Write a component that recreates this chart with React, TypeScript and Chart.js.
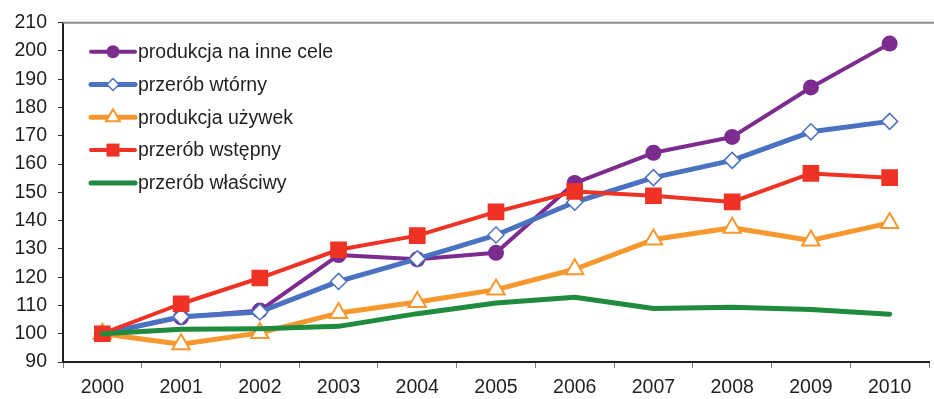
import React, { useEffect, useRef } from 'react';
import { Chart, registerables } from 'chart.js';

Chart.register(...registerables);

// Index values (2000 = 100) for the five branches
const years = ['2000', '2001', '2002', '2003', '2004', '2005', '2006', '2007', '2008', '2009', '2010'];
const inneCele = [100, 105.8, 108.2, 127.8, 126.3, 128.6, 153.3, 164.0, 169.6, 187.1, 202.6];
const wtorny = [100, 106.0, 107.7, 118.5, 126.5, 134.9, 146.5, 155.2, 161.3, 171.4, 175.1];
const uzywki = [100, 96.3, 100.3, 107.3, 111.2, 115.6, 122.8, 133.3, 137.5, 133.0, 139.2];
const wstepny = [100, 110.6, 119.7, 129.7, 134.7, 143.1, 150.3, 148.8, 146.6, 156.7, 155.2];
const wlasciwy = [100, 101.6, 101.8, 102.6, 107.1, 110.9, 112.9, 108.9, 109.4, 108.6, 106.9];

const yMin = 90;
const yMax = 210;
const yStep = 10;

const FONT = '"Liberation Sans", Arial, Helvetica, sans-serif';
const TEXT = '#231F20';

const PURPLE = '#7B2C8E';
const BLUE = '#4A72C0';
const ORANGE = '#F7982F';
const RED = '#EE3224';
const GREEN = '#1E8B3D';

type Marker = 'circle' | 'rectRot' | 'triangle' | 'rect' | 'none';

function drawMarker(ctx: CanvasRenderingContext2D, kind: Marker, x: number, y: number, color: string) {
  ctx.save();
  ctx.beginPath();
  if (kind === 'circle') {
    ctx.arc(x, y, 6.5, 0, Math.PI * 2);
    ctx.fillStyle = color;
    ctx.fill();
  } else if (kind === 'rect') {
    ctx.rect(x - 6.5, y - 6.5, 13, 13);
    ctx.fillStyle = color;
    ctx.fill();
  } else if (kind === 'rectRot') {
    const r = 6;
    ctx.moveTo(x - r, y);
    ctx.lineTo(x, y - r);
    ctx.lineTo(x + r, y);
    ctx.lineTo(x, y + r);
    ctx.closePath();
    ctx.fillStyle = '#fff';
    ctx.fill();
    ctx.lineWidth = 1.5;
    ctx.strokeStyle = color;
    ctx.stroke();
  } else if (kind === 'triangle') {
    const r = 8;
    const h = r * Math.sin((2 * Math.PI) / 3);
    ctx.moveTo(x, y - r);
    ctx.lineTo(x + h, y + r / 2);
    ctx.lineTo(x - h, y + r / 2);
    ctx.closePath();
    ctx.fillStyle = '#fff';
    ctx.fill();
    ctx.lineWidth = 2;
    ctx.strokeStyle = color;
    ctx.stroke();
  }
  ctx.restore();
}

// Excel-style legend (line + marker) placed inside the plot area
const insideLegend = {
  id: 'insideLegend',
  afterDatasetsDraw(chart: any) {
    const { ctx, chartArea } = chart;
    const x0 = chartArea.left + 28;
    const y0 = chartArea.top + 29;
    const rowH = 32.8;
    chart.data.datasets.forEach((ds: any, i: number) => {
      const y = y0 + i * rowH;
      ctx.save();
      ctx.beginPath();
      ctx.moveTo(x0, y);
      ctx.lineTo(x0 + 44, y);
      ctx.strokeStyle = ds.borderColor;
      ctx.lineWidth = ds.borderWidth;
      ctx.lineCap = 'round';
      ctx.stroke();
      ctx.restore();
      drawMarker(ctx, ds.legendMarker as Marker, x0 + 22, y, ds.borderColor);
      ctx.save();
      ctx.font = `19.5px ${FONT}`;
      ctx.fillStyle = TEXT;
      ctx.textBaseline = 'middle';
      ctx.textAlign = 'left';
      ctx.fillText(ds.label, x0 + 47, y + 1);
      ctx.restore();
    });
  },
};

// Grey frame line along the top of the plot area
const topFrame = {
  id: 'topFrame',
  beforeDatasetsDraw(chart: any) {
    const { ctx, chartArea } = chart;
    ctx.save();
    ctx.beginPath();
    ctx.moveTo(chartArea.left, chartArea.top);
    ctx.lineTo(chart.width, chartArea.top);
    ctx.strokeStyle = '#8C8C8C';
    ctx.lineWidth = 2;
    ctx.stroke();
    ctx.restore();
  },
};

export default function App() {
  const canvasRef = useRef<HTMLCanvasElement | null>(null);

  useEffect(() => {
    if (!canvasRef.current) return;
    const chart = new Chart(canvasRef.current, {
      type: 'line',
      data: {
        labels: years,
        datasets: [
          {
            label: 'produkcja na inne cele',
            data: inneCele,
            borderColor: PURPLE,
            backgroundColor: PURPLE,
            borderWidth: 4,
            pointStyle: 'circle',
            pointRadius: 8,
            pointBackgroundColor: PURPLE,
            pointBorderColor: PURPLE,
            pointBorderWidth: 0,
            order: 4,
            legendMarker: 'circle',
          } as any,
          {
            label: 'przerób wtórny',
            data: wtorny,
            borderColor: BLUE,
            backgroundColor: BLUE,
            borderWidth: 5,
            pointStyle: 'rectRot',
            pointRadius: 8,
            pointBackgroundColor: '#fff',
            pointBorderColor: BLUE,
            pointBorderWidth: 1.5,
            order: 3,
            legendMarker: 'rectRot',
          } as any,
          {
            label: 'produkcja używek',
            data: uzywki,
            borderColor: ORANGE,
            backgroundColor: ORANGE,
            borderWidth: 5,
            pointStyle: 'triangle',
            pointRadius: 10,
            pointBackgroundColor: '#fff',
            pointBorderColor: ORANGE,
            pointBorderWidth: 2,
            order: 2,
            legendMarker: 'triangle',
          } as any,
          {
            label: 'przerób wstępny',
            data: wstepny,
            borderColor: RED,
            backgroundColor: RED,
            borderWidth: 4,
            pointStyle: 'rect',
            pointRadius: 11.8,
            pointBackgroundColor: RED,
            pointBorderColor: RED,
            pointBorderWidth: 0,
            order: 1,
            legendMarker: 'rect',
          } as any,
          {
            label: 'przerób właściwy',
            data: wlasciwy,
            borderColor: GREEN,
            backgroundColor: GREEN,
            borderWidth: 5,
            pointRadius: 0,
            order: 0,
            legendMarker: 'none',
          } as any,
        ],
      },
      options: {
        responsive: false,
        animation: false,
        events: [],
        layout: { padding: { top: 21, left: 0, right: 0, bottom: 0 } },
        elements: {
          line: { tension: 0, borderCapStyle: 'round', borderJoinStyle: 'round' },
        },
        plugins: {
          legend: { display: false },
          title: { display: false },
          tooltip: { enabled: false },
        },
        scales: {
          x: {
            type: 'category',
            offset: true,
            afterFit: (s: any) => {
              s.height = 37;
            },
            grid: {
              offset: true,
              drawOnChartArea: false,
              drawTicks: true,
              tickLength: 6,
              tickColor: '#7A7A7A',
              tickWidth: 1,
            },
            border: { display: true, color: TEXT, width: 2 },
            ticks: {
              color: TEXT,
              font: { family: FONT, size: 19.5 },
              padding: 8,
              maxRotation: 0,
              autoSkip: false,
            },
          },
          y: {
            min: yMin,
            max: yMax,
            afterFit: (s: any) => {
              s.width = 63;
            },
            grid: {
              drawOnChartArea: false,
              drawTicks: true,
              tickLength: 5,
              tickColor: '#333',
              tickWidth: 1,
            },
            border: { display: true, color: TEXT, width: 2 },
            ticks: {
              stepSize: yStep,
              color: TEXT,
              font: { family: FONT, size: 19.5 },
              padding: 11,
            },
          },
        },
      },
      plugins: [topFrame, insideLegend],
    });
    return () => chart.destroy();
  }, []);

  return (
    <div
      style={{
        position: 'fixed',
        left: 0,
        top: 0,
        width: 934,
        height: 399,
        overflow: 'hidden',
        background: '#fff',
      }}
    >
      <canvas ref={canvasRef} width={941} height={399} style={{ display: 'block' }} />
    </div>
  );
}
